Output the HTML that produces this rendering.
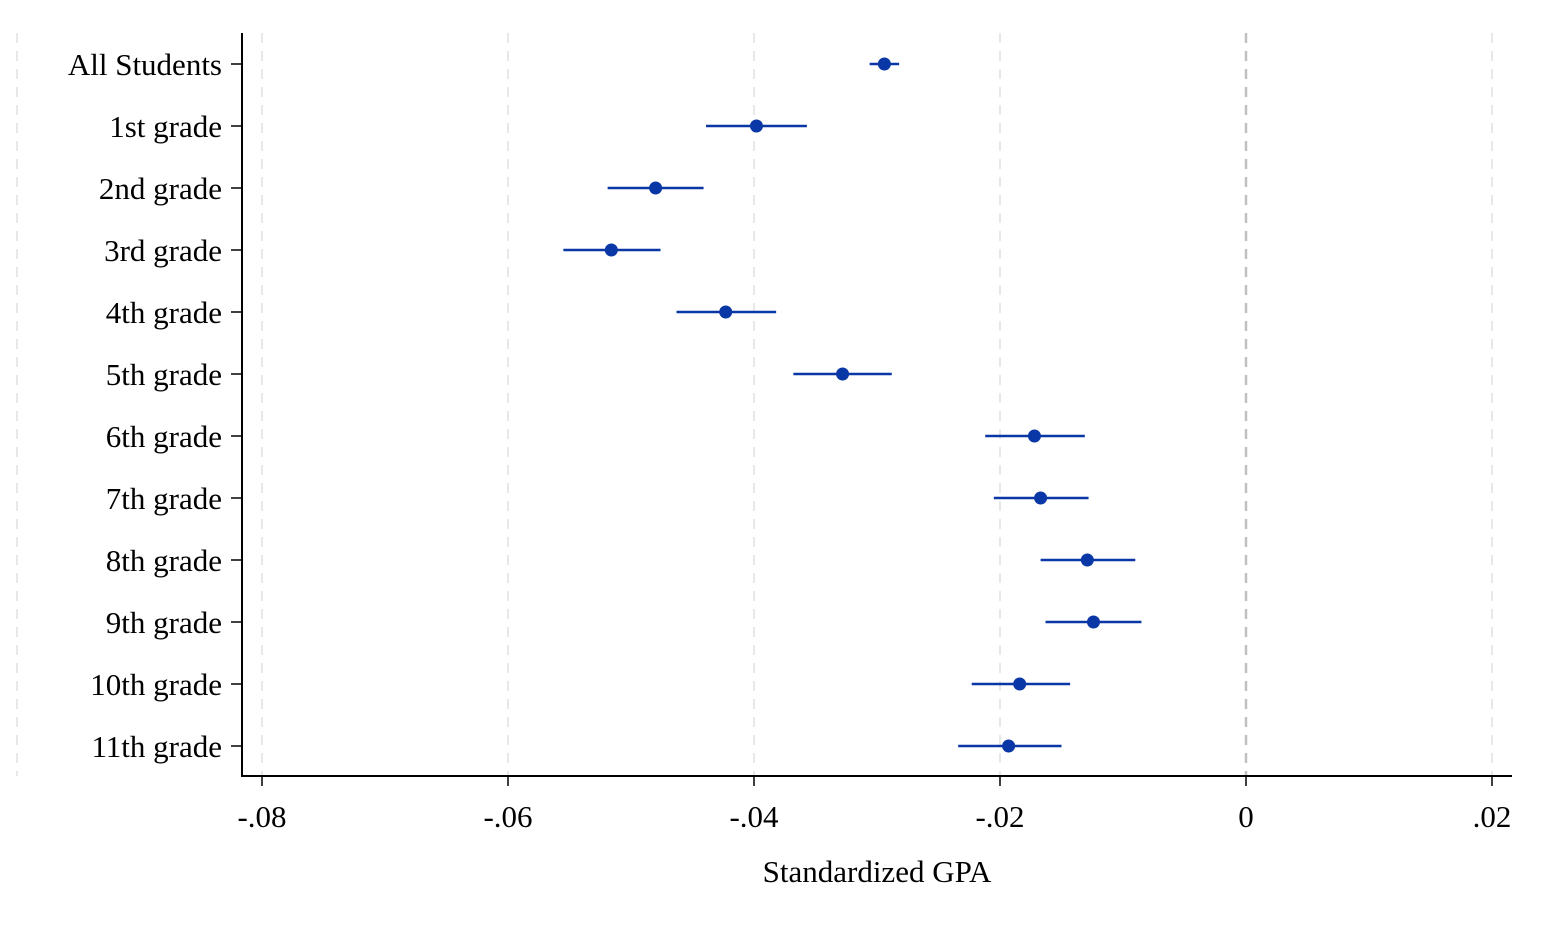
<!DOCTYPE html>
<html><head><meta charset="utf-8"><style>
html,body{margin:0;padding:0;background:#fff;}
svg text{font-family:"Liberation Serif",serif;fill:#000;}
</style></head><body>
<svg id="chart" width="1546" height="927" xmlns="http://www.w3.org/2000/svg"></svg>
<script>
const categories=["All Students","1st grade","2nd grade","3rd grade","4th grade","5th grade","6th grade","7th grade","8th grade","9th grade","10th grade","11th grade"];
const estimates=[-0.0294,-0.0398,-0.0480,-0.0516,-0.0423,-0.0328,-0.0172,-0.0167,-0.0129,-0.0124,-0.0184,-0.0193];
const ciLow=[-0.0306,-0.0439,-0.0519,-0.0555,-0.0463,-0.0368,-0.0212,-0.0205,-0.0167,-0.0163,-0.0223,-0.0234];
const ciHigh=[-0.0282,-0.0357,-0.0441,-0.0476,-0.0382,-0.0288,-0.0131,-0.0128,-0.0090,-0.0085,-0.0143,-0.0150];
const xTicks=[-0.08,-0.06,-0.04,-0.02,0,0.02];
const xTickLabels=["-.08","-.06","-.04","-.02","0",".02"];

const svg=document.getElementById('chart');
const NS='http://www.w3.org/2000/svg';
const x=v=>1246+v*12300;
const y=i=>64+i*62;
function mk(tag,attrs,parent){const e=document.createElementNS(NS,tag);for(const k in attrs)e.setAttribute(k,attrs[k]);(parent||svg).appendChild(e);return e;}

let od=mk('line',{x1:17,x2:17,y1:33,y2:776,stroke:'#e8e8e8','stroke-width':2,'stroke-dasharray':'10,8'});



xTicks.forEach((t,i)=>{
  const g=mk('line',{x1:x(t),x2:x(t),y1:33,y2:776,stroke:t===0?'#c0c0c0':'#e8e8e8','stroke-width':t===0?2.5:2,'stroke-dasharray':'10,8'});
  
  
  const tk=mk('line',{x1:x(t),x2:x(t),y1:776,y2:786,stroke:'#000','stroke-width':1.5});
  
  
  const lb=mk('text',{x:x(t),y:827,'text-anchor':'middle','font-size':31});
  lb.textContent=xTickLabels[i];
  
  
});

const ya=mk('line',{x1:242,x2:242,y1:33,y2:777,stroke:'#000','stroke-width':2});


const xa=mk('line',{x1:241,x2:1512,y1:776,y2:776,stroke:'#000','stroke-width':2});



categories.forEach((c,i)=>{
  const tk=mk('line',{x1:231,x2:242,y1:y(i),y2:y(i),stroke:'#000','stroke-width':1.5});
  
  
  const lb=mk('text',{x:222,y:y(i)+11,'text-anchor':'end','font-size':31});
  lb.textContent=c;
  
  
  const ci=mk('line',{x1:x(ciLow[i]),x2:x(ciHigh[i]),y1:y(i),y2:y(i),stroke:'#0a37a6','stroke-width':2.5});
  
  
  const p=mk('circle',{cx:x(estimates[i]),cy:y(i),r:6.5,fill:'#0a37a6'});
  
  
});

const tt=mk('text',{x:877,y:882,'text-anchor':'middle','font-size':31});
tt.textContent='Standardized GPA';


</script>
</body></html>
